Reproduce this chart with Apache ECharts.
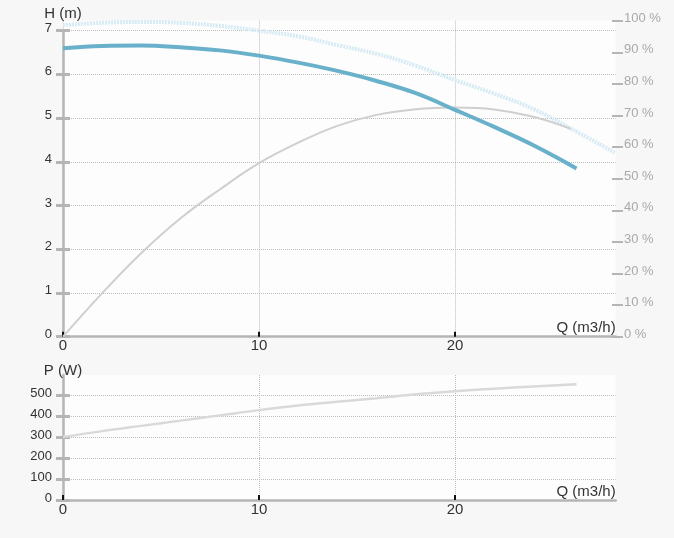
<!DOCTYPE html>
<html>
<head>
<meta charset="utf-8">
<style>
  html, body { margin: 0; padding: 0; background: #f7f7f7; }
  #chart { width: 674px; height: 538px; }
</style>
</head>
<body>
<div id="chart"></div>
<script src="https://cdn.jsdelivr.net/npm/echarts@6/dist/echarts.min.js"></script>
<script>
// values
var qHead = [0, 2, 4, 6, 8, 10, 12, 14, 16, 18, 20, 22, 24, 26.2];
var head = [6.60, 6.65, 6.66, 6.62, 6.55, 6.43, 6.27, 6.08, 5.85, 5.57, 5.19, 4.80, 4.38, 3.85];

var qHeadMax = [0, 2, 4, 6, 8, 10, 12, 14, 16, 18, 20, 22, 24, 26, 28.2];
var headMax = [7.13, 7.18, 7.20, 7.18, 7.11, 7.00, 6.87, 6.67, 6.47, 6.20, 5.87, 5.56, 5.21, 4.74, 4.20];

var qEff = [0, 2, 4, 6, 8, 10, 12, 14, 16, 18, 20, 22, 24, 25.9];
var eff = [0, 13.8, 26.5, 37.5, 46.6, 54.9, 61.4, 66.7, 70.2, 72.0, 72.5, 71.9, 69.6, 65.8];

var qPower = [0, 2, 4, 6, 8, 10, 12, 14, 16, 18, 20, 22, 24, 26.2];
var power = [300, 328, 353, 378, 403, 428, 450, 468, 485, 503, 518, 530, 541, 551];

var qTicks = [0, 10, 20];
var qMax = 28.2;

function pairs(xs, ys) {
    return xs.map(function (x, i) { return [x, ys[i]]; });
}

var font = "'Liberation Sans', Arial, sans-serif";
var axisGrey = '#b5b5b5';
var gridLine = { show: true, lineStyle: { color: '#bdbdbd', type: [1, 1], width: 1 } };
var plotW = 552.7;

var myChart = echarts.init(document.getElementById('chart'), null, { renderer: 'canvas' });

// x axis with line, ticks, labels and name
function xVisible(g) {
    return {
        gridIndex: g, type: 'value', min: 0, max: qMax,
        name: 'Q (m3/h)', nameLocation: 'end', nameGap: 0,
        nameTextStyle: { align: 'right', verticalAlign: 'bottom', color: '#333', fontSize: 15, fontFamily: font, padding: [0, 0, 1, 0] },
        axisLine: { lineStyle: { color: axisGrey, width: 2.5 } },
        axisTick: { inside: true, length: 5, customValues: qTicks, lineStyle: { color: '#111', width: 2 } },
        axisLabel: { customValues: qTicks, margin: 2, color: '#333', fontSize: 15, fontFamily: font },
        splitLine: { show: false }
    };
}
// x axis only drawing vertical grid lines
function xSplit(g) {
    return {
        gridIndex: g, type: 'value', min: 0, max: qMax,
        axisLine: { show: false }, axisLabel: { show: false },
        axisTick: { show: false, customValues: qTicks },
        splitLine: gridLine
    };
}
function xHidden(g) {
    return { gridIndex: g, type: 'value', min: 0, max: qMax, show: false };
}
// inward half of the crossing y ticks
function yInner(g, max, interval) {
    return {
        gridIndex: g, type: 'value', position: 'left', min: 0, max: max, interval: interval,
        axisLine: { show: false }, axisLabel: { show: false }, splitLine: { show: false },
        axisTick: { show: true, inside: true, length: 7, lineStyle: { color: axisGrey, width: 3 } }
    };
}

option = {
    backgroundColor: '#f7f7f7',
    animation: false,
    textStyle: { fontFamily: font },
    grid: [
        { left: 63, top: 20.7, width: plotW, height: 316, show: true, backgroundColor: '#fdfdfd', borderWidth: 0 }, // 0 top background
        { left: 63, top: 30.7, width: plotW, height: 306 },   // 1 H
        { left: 63, top: 30.7, width: plotW, height: 306 },   // 2 H inner ticks
        { left: 63, top: 20.7, width: plotW, height: 316 },   // 3 efficiency
        { left: 63, top: 375, width: plotW, height: 125, show: true, backgroundColor: '#fdfdfd', borderWidth: 0 }, // 4 bottom background
        { left: 63, top: 395, width: plotW, height: 105 },    // 5 P
        { left: 63, top: 395, width: plotW, height: 105 }     // 6 P inner ticks
    ],
    xAxis: [
        xSplit(0),
        xVisible(1),
        xHidden(2),
        xHidden(3),
        xSplit(4),
        xVisible(5),
        xHidden(6)
    ],
    yAxis: [
        { gridIndex: 0, type: 'value', min: 0, max: 100, show: false },
        {
            gridIndex: 1, type: 'value', position: 'left', min: 0, max: 7, interval: 1,
            name: 'H (m)', nameLocation: 'end', nameGap: 2,
            nameTextStyle: { color: '#333', fontSize: 15, fontFamily: font },
            axisLine: { show: true, lineStyle: { color: axisGrey, width: 2.5 } },
            axisTick: { show: true, length: 7, lineStyle: { color: axisGrey, width: 3 } },
            axisLabel: { margin: 11, color: '#333', fontSize: 13, fontFamily: font, verticalAlign: 'bottom', lineHeight: 5 },
            splitLine: gridLine
        },
        yInner(2, 7, 1),
        {
            gridIndex: 3, type: 'value', position: 'right', offset: -3.7, min: 0, max: 100, interval: 10,
            axisLine: { show: false, onZero: false }, splitLine: { show: false },
            axisTick: { show: true, inside: false, length: 11, lineStyle: { color: axisGrey, width: 2 } },
            axisLabel: { margin: 12, formatter: '{value} %', color: '#a9a9a9', fontSize: 13, fontFamily: font, verticalAlign: 'bottom', lineHeight: 5 }
        },
        {
            gridIndex: 4, type: 'value', position: 'left', min: 0, max: 500,
            axisLine: { show: true, lineStyle: { color: axisGrey, width: 2.5 } },
            axisTick: { show: false }, axisLabel: { show: false }, splitLine: { show: false }
        },
        {
            gridIndex: 5, type: 'value', position: 'left', min: 0, max: 500, interval: 100,
            name: 'P (W)', nameLocation: 'end', nameGap: 17,
            nameTextStyle: { color: '#333', fontSize: 15, fontFamily: font },
            axisLine: { show: false },
            axisTick: { show: true, length: 7, lineStyle: { color: axisGrey, width: 3 } },
            axisLabel: { margin: 11, color: '#333', fontSize: 13, fontFamily: font, verticalAlign: 'bottom', lineHeight: 3 },
            splitLine: gridLine
        },
        yInner(6, 500, 100)
    ],
    series: [
        {
            name: 'max', type: 'line', xAxisIndex: 1, yAxisIndex: 1, clip: false,
            data: pairs(qHeadMax, headMax), smooth: 0.4, showSymbol: false, silent: true,
            lineStyle: { color: '#d6ebf4', width: 4, type: [2, 1] }, z: 2
        },
        {
            name: 'eff', type: 'line', xAxisIndex: 3, yAxisIndex: 3, clip: false,
            data: pairs(qEff, eff), smooth: 0.4, showSymbol: false, silent: true,
            lineStyle: { color: '#cfcfcf', width: 2 }, z: 3
        },
        {
            name: 'H', type: 'line', xAxisIndex: 1, yAxisIndex: 1, clip: false,
            data: pairs(qHead, head), smooth: 0.4, showSymbol: false, silent: true,
            lineStyle: { color: '#69b1ca', width: 4 }, z: 4
        },
        {
            name: 'P', type: 'line', xAxisIndex: 5, yAxisIndex: 5, clip: false,
            data: pairs(qPower, power), smooth: 0.4, showSymbol: false, silent: true,
            lineStyle: { color: '#d9d9d9', width: 2.5 }, z: 3
        }
    ]
};
myChart.setOption(option);
</script>
</body>
</html>
